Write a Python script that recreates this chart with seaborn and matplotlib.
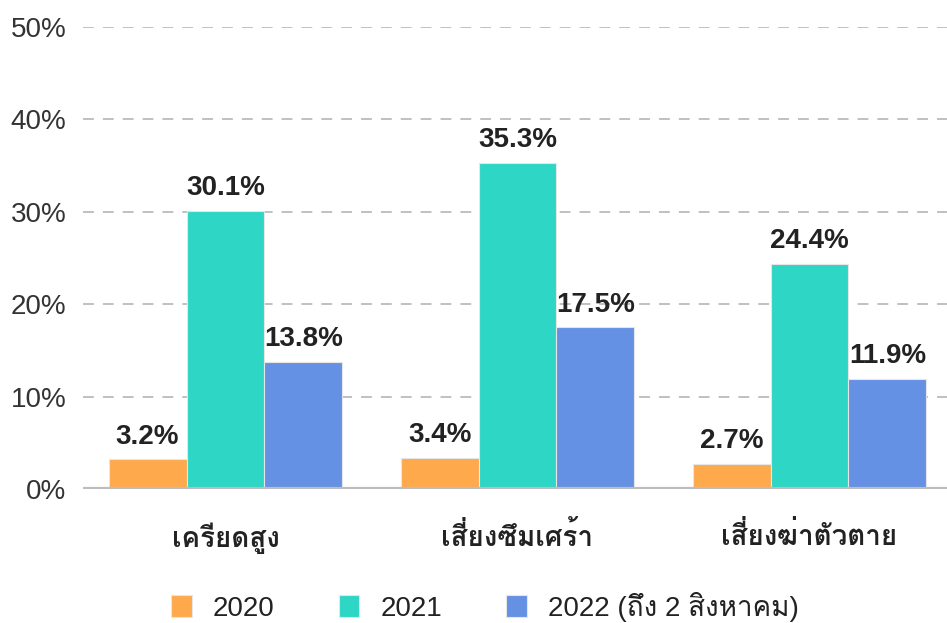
import matplotlib
matplotlib.use('Agg')
import matplotlib.pyplot as plt
from matplotlib import font_manager
import seaborn as sns
import pandas as pd

categories = ['เครียดสูง', 'เสี่ยงซึมเศร้า', 'เสี่ยงฆ่าตัวตาย']
years = ['2020', '2021', '2022 (ถึง 2 สิงหาคม)']
values_2020 = [3.2, 3.4, 2.7]
values_2021 = [30.1, 35.3, 24.4]
values_2022 = [13.8, 17.5, 11.9]
y_ticks = [0, 10, 20, 30, 40, 50]
colors = ['#FFA94D', '#2ED6C5', '#6591E5']


# find any installed family that has Thai glyphs
def thai_families():
    found = []
    for f in font_manager.fontManager.ttflist:
        try:
            cmap = font_manager.get_font(f.fname).get_charmap()
        except Exception:
            continue
        if ord('ค') in cmap and f.name not in found:
            found.append(f.name)
    return found


sns.set_style('white')
thai = thai_families()
families = ['Liberation Sans'] + thai + ['DejaVu Sans']
plt.rcParams['font.family'] = families

df = pd.DataFrame({
    'category': categories * 3,
    'year': [years[0]] * 3 + [years[1]] * 3 + [years[2]] * 3,
    'value': values_2020 + values_2021 + values_2022,
})

fig = plt.figure(figsize=(9.47, 6.23), dpi=100)
ax = fig.add_axes([0.0876, 0.215, 0.9124, 0.7417])

sns.barplot(data=df, x='category', y='value', hue='year', palette=colors,
            width=0.8, saturation=1, linewidth=0.8, edgecolor='#E6E6E6',
            ax=ax, legend=True)

for cont in ax.containers:
    ax.bar_label(cont, fmt='%.1f%%', padding=7, fontsize=20,
                 fontweight='bold', color='#222222')

ax.set_ylim(0, 50)
ax.set_xlim(-0.488, 2.471)
ax.set_yticks(y_ticks)
ax.set_yticklabels([f'{t}%' for t in y_ticks])
ax.yaxis.grid(True, linestyle=(0, (6, 5)), color='#BBBBBB', linewidth=1.3)
ax.set_axisbelow(True)
ax.axhline(0, color='#BDBDBD', linewidth=3, zorder=5)
for s in ax.spines.values():
    s.set_visible(False)
ax.tick_params(axis='y', length=0, pad=12, labelsize=20, labelcolor='#333333')
ax.tick_params(axis='x', length=0, pad=24, labelsize=20, labelcolor='#222222')
for lab in ax.get_xticklabels():
    lab.set_fontweight('bold')
ax.set_xlabel('')
ax.set_ylabel('')

handles, labels = ax.get_legend_handles_labels()
ax.get_legend().remove()
fig.legend(handles, labels, loc='center', bbox_to_anchor=(0.512, 0.026),
           ncol=3, frameon=False, fontsize=20, handlelength=0.75,
           handleheight=0.85, handletextpad=0.75, columnspacing=2.3,
           labelcolor='#222222')

fig.savefig('out.png', dpi=100)
